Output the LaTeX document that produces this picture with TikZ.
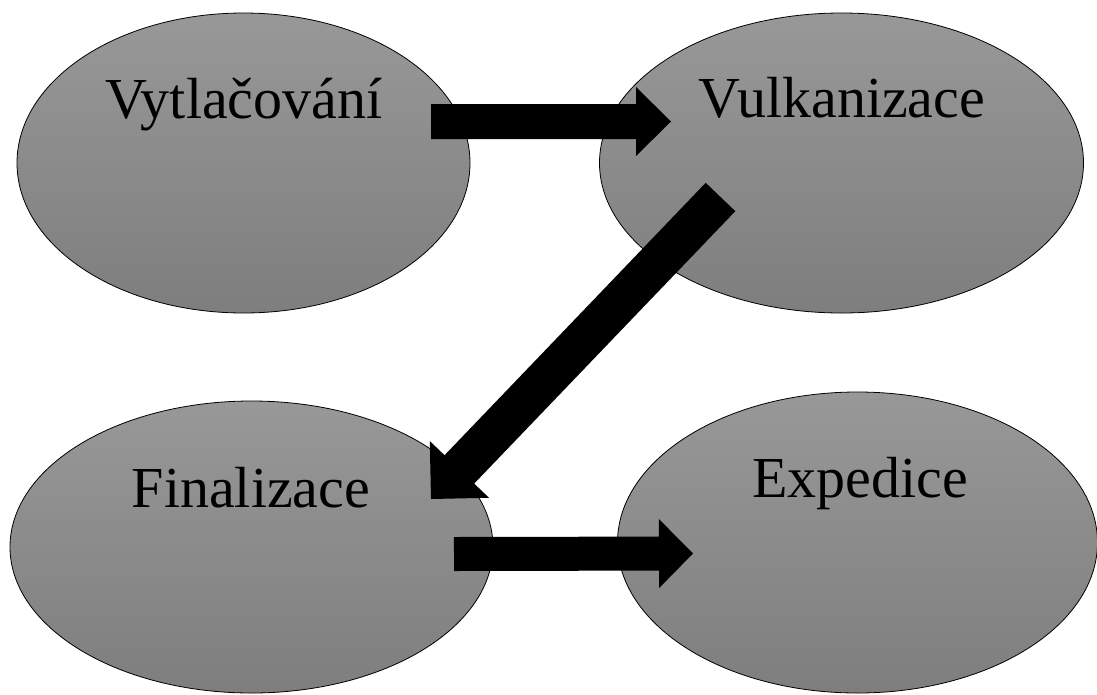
\documentclass[tikz,border=0pt]{standalone}
\usepackage{fontspec}
\setmainfont{Liberation Serif}
\usetikzlibrary{calc,shapes.geometric}
\definecolor{shadetop}{RGB}{152,152,152}
\definecolor{shadebot}{RGB}{126,126,126}
\tikzset{
  stage/.style={ellipse, draw=black, line width=0.8pt, shading=axis,
    top color=shadetop, bottom color=shadebot, inner sep=0pt},
  stagelabel/.style={anchor=base, inner sep=0pt, font=\fontsize{58}{62}\selectfont},
}
% block arrow from tail #1 to tip #2: shaft half-width #3, head half-width #4, head length #5
\newcommand{\blockarrow}[5]{%
  \coordinate (ba-hb) at ($(#2)!#5!(#1)$);
  \fill[black]
    ($(#1)!#3!90:(#2)$) --
    ($(ba-hb)!#3!90:(#2)$) --
    ($(ba-hb)!#4!90:(#2)$) --
    (#2) --
    ($(ba-hb)!#4!-90:(#2)$) --
    ($(ba-hb)!#3!-90:(#2)$) --
    ($(#1)!#3!-90:(#2)$) -- cycle;
}
\begin{document}
\begin{tikzpicture}[x=1pt,y=-1pt]
\useasboundingbox (0,0) rectangle (1097,694);

% stages
\node[stage, minimum width=453pt, minimum height=300pt] (vyt) at (243.5,163) {};
\node[stage, minimum width=484pt, minimum height=300pt] (vul) at (841.5,163) {};
\node[stage, minimum width=483pt, minimum height=292pt] (fin) at (251.5,547) {};
\node[stage, minimum width=480pt, minimum height=301pt] (exp) at (857.5,542.5) {};

\node[stagelabel] (tvyt) at (244,118) {Vytlačování};
\node[stagelabel] (tvul) at (842,117) {Vulkanizace};
\node[stagelabel] (tfin) at (251,507) {Finalizace};
\node[stagelabel] (texp) at (860,497) {Expedice};

% connectors
\coordinate (a1s) at (431,121.5);
\coordinate (a1e) at (671,121.5);
\coordinate (a2s) at (720.5,197);
\coordinate (a2e) at (431,499);
\coordinate (a3s) at (454,554);
\coordinate (a3e) at (693,553.5);

\blockarrow{a1s}{a1e}{17.5pt}{34.5pt}{35pt}
\blockarrow{a2s}{a2e}{20.5pt}{41pt}{41pt}
\blockarrow{a3s}{a3e}{17pt}{34.5pt}{34pt}
\end{tikzpicture}
\end{document}
